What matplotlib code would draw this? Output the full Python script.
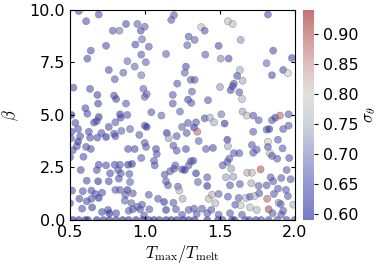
import numpy as np
import matplotlib
matplotlib.use("Agg")
import matplotlib.pyplot as plt
from matplotlib.colors import LinearSegmentedColormap

plt.rcParams['mathtext.fontset'] = 'cm'

# T_max / T_melt for each run
t_ratio = [
    0.558, 0.691, 0.607, 0.785, 0.829, 0.873, 0.949, 0.971, 0.998, 0.980, 0.935, 0.740, 0.638,
    0.615, 0.975, 0.882, 1.005, 0.931, 0.758, 0.855, 0.798, 0.975, 1.025, 1.193, 1.175, 1.375,
    1.398, 1.291, 1.331, 1.282, 1.140, 1.402, 1.491, 1.505, 1.273, 1.265, 1.305, 1.331, 1.553,
    1.585, 1.820, 1.638, 1.558, 1.855, 1.980, 1.811, 1.633, 1.615, 1.847, 1.922, 1.953, 1.651,
    # middle band
    0.522, 0.633, 0.682, 0.687, 0.793, 0.807, 0.873, 0.989, 0.998, 0.602, 0.615, 0.691, 0.678,
    0.509, 0.535, 0.833, 0.838, 0.882, 0.758, 0.802, 0.660, 0.998, 0.509, 0.553, 0.625, 0.709,
    0.740, 0.793, 0.842, 0.900, 0.962, 0.505, 0.567, 0.553, 0.633, 0.682, 0.802, 0.545, 0.607,
    0.638, 0.518, 0.887, 0.931, 0.998,
    1.215, 1.011, 1.185, 1.313, 1.500, 1.287, 1.309, 1.185, 1.420, 1.042, 1.109, 1.233, 1.011,
    1.287, 1.247, 1.340, 1.398, 1.433, 1.460, 1.327, 1.349, 1.278, 1.145, 1.158, 1.211, 1.358,
    1.189, 1.007, 1.073, 1.273, 1.407, 1.453,
    1.593, 1.585, 1.571, 1.629, 1.647, 1.509, 1.531, 1.651, 1.678, 1.722, 1.758, 1.847, 1.869,
    1.900, 1.958, 1.722, 1.811, 1.829, 1.922, 1.958, 1.549, 1.553, 1.713, 1.820, 1.887, 1.745,
    1.820, 1.918,
    # lower band
    0.500, 0.589, 0.975, 0.691, 0.678, 0.740, 0.798, 0.833, 0.887, 0.913, 0.571, 0.767, 0.820,
    0.825, 0.838, 0.895, 0.611, 0.687, 0.758, 0.900, 0.513, 0.585, 0.642, 0.691, 0.642, 0.669,
    0.713, 0.802, 0.833, 0.882, 0.918, 0.869, 0.562, 0.611, 0.500, 0.580, 0.647, 0.713, 0.753,
    0.762, 0.807, 0.891, 0.918, 0.967, 0.993, 0.865, 0.909, 0.949,
    1.078, 1.211, 1.060, 1.065, 1.202, 1.193, 1.167, 1.131, 1.247, 1.265, 1.291, 1.305, 1.322,
    1.340, 1.140, 1.153, 1.220, 1.353, 1.415, 1.229, 1.251, 1.425, 1.447, 1.491, 1.469, 1.025,
    1.087, 1.127, 1.189, 0.980, 1.029, 1.140, 1.207, 1.291, 1.327, 1.380, 1.247, 1.415, 1.491,
    1.593, 1.629, 1.722, 1.833, 1.847, 1.882, 1.962, 1.518, 1.562, 1.549, 1.575, 1.589, 1.540,
    1.415, 1.682, 1.713, 1.771, 1.838, 1.909, 1.945, 1.971, 1.709, 1.567, 1.633, 1.758, 1.811,
    1.855, 1.887, 1.940, 1.553, 1.625, 1.673, 1.700, 1.731, 1.762, 1.815, 1.860, 1.953, 1.891,
    1.905, 1.989, 1.442, 1.602, 1.638, 1.700, 1.745, 1.825, 1.851, 1.909, 1.922, 1.345, 1.567,
    1.647,
    # beta = 0 row
    0.518, 0.558, 0.602, 0.620, 0.678, 0.722, 0.762, 0.807, 0.851, 0.891, 0.940, 0.985, 1.025,
    1.060, 1.095, 1.140, 1.175, 1.211, 1.255, 1.291, 1.331, 1.415, 1.487, 1.518, 1.580, 1.598,
    1.669, 1.695, 1.740, 1.775, 1.825, 1.882, 1.945, 1.998,
]

beta = [
    9.94, 9.78, 9.46, 9.01, 9.01, 9.33, 9.33, 9.01, 9.20, 8.60, 8.35, 8.29, 8.06,
    7.68, 7.87, 7.56, 7.51, 7.30, 7.14, 7.01, 6.70, 6.89, 8.25, 9.75, 9.52, 9.18,
    9.01, 8.73, 8.57, 8.32, 7.90, 7.87, 8.29, 7.68, 7.30, 7.01, 6.67, 6.67, 9.46,
    9.33, 9.78, 8.57, 7.68, 8.06, 7.71, 7.46, 7.14, 6.86, 6.89, 7.14, 6.99, 6.63,
    # middle band
    6.30, 6.24, 5.95, 5.54, 5.92, 5.76, 5.54, 6.24, 5.86, 5.32, 5.06, 4.90, 4.71,
    5.00, 4.62, 5.03, 4.87, 5.00, 4.43, 4.65, 4.64, 4.49, 4.20, 4.33, 4.20, 4.14,
    3.95, 4.11, 4.24, 4.33, 4.05, 3.89, 3.99, 3.73, 3.92, 3.92, 3.99, 3.51, 3.48,
    3.38, 3.32, 3.38, 3.38, 3.67,
    6.49, 5.99, 5.95, 6.11, 6.33, 5.73, 5.57, 5.54, 5.70, 5.13, 4.97, 5.16, 4.43,
    4.62, 4.43, 4.65, 4.84, 4.87, 4.65, 4.40, 4.20, 4.14, 4.14, 3.89, 3.99, 3.76,
    3.54, 3.48, 3.38, 3.38, 3.38, 3.43,
    6.49, 6.37, 6.18, 6.08, 5.76, 5.03, 4.59, 5.16, 4.97, 4.97, 4.75, 4.75, 4.87,
    4.97, 5.03, 4.20, 4.30, 4.33, 4.33, 4.49, 3.82, 3.51, 3.57, 3.73, 3.82, 3.35,
    3.48, 3.41,
    # lower band
    2.99, 3.01, 2.95, 2.63, 2.38, 2.60, 2.63, 2.63, 2.63, 2.67, 2.38, 2.22, 2.38,
    1.97, 2.22, 2.19, 1.87, 1.84, 1.84, 1.81, 1.40, 1.37, 1.40, 1.05, 1.01, 1.24,
    1.30, 1.43, 1.43, 1.43, 1.27, 1.20, 1.01, 0.89, 0.80, 0.54, 0.60, 0.38, 0.48,
    0.32, 0.32, 0.44, 0.51, 0.51, 0.22, 0.92, 0.80, 0.63,
    3.14, 3.30, 2.82, 2.60, 2.60, 2.44, 2.32, 2.16, 2.41, 2.38, 2.60, 2.80, 2.82,
    2.22, 1.84, 1.65, 1.59, 1.81, 1.62, 1.40, 1.01, 1.01, 1.20, 1.24, 0.80, 1.20,
    1.01, 0.86, 0.82, 0.73, 0.51, 0.48, 0.51, 0.48, 0.54, 0.54, 0.25, 0.32, 0.25,
    3.18, 3.18, 3.20, 3.18, 3.05, 2.92, 2.95, 2.60, 2.92, 2.76, 2.44, 2.06, 2.03,
    2.03, 2.25, 2.25, 2.41, 2.03, 2.00, 2.38, 1.94, 1.75, 1.65, 1.71, 1.62, 1.65,
    1.84, 1.49, 1.43, 1.11, 1.05, 1.05, 1.11, 1.14, 1.27, 1.01, 1.24, 1.14, 0.82,
    0.76, 0.73, 0.48, 0.73, 0.70, 0.60, 0.48, 0.51, 0.32, 0.25, 0.44, 0.29, 0.32,
    0.25,
    # beta = 0 row
    0.0, 0.0, 0.0, 0.0, 0.0, 0.0, 0.0, 0.0, 0.0, 0.0, 0.0, 0.0, 0.0,
    0.0, 0.0, 0.0, 0.0, 0.0, 0.0, 0.0, 0.0, 0.0, 0.0, 0.0, 0.0, 0.0,
    0.0, 0.0, 0.0, 0.0, 0.0, 0.0, 0.0, 0.0,
]

sigma_theta = [
    0.65, 0.65, 0.65, 0.66, 0.69, 0.65, 0.67, 0.65, 0.67, 0.68, 0.65, 0.65, 0.65,
    0.65, 0.66, 0.68, 0.67, 0.68, 0.65, 0.67, 0.66, 0.69, 0.66, 0.66, 0.66, 0.77,
    0.66, 0.66, 0.67, 0.67, 0.67, 0.67, 0.65, 0.71, 0.65, 0.67, 0.66, 0.66, 0.77,
    0.82, 0.65, 0.72, 0.65, 0.65, 0.64, 0.68, 0.74, 0.65, 0.65, 0.65, 0.80, 0.74,
    # middle band
    0.65, 0.65, 0.64, 0.64, 0.65, 0.64, 0.66, 0.67, 0.67, 0.65, 0.65, 0.62, 0.65,
    0.61, 0.65, 0.63, 0.64, 0.66, 0.65, 0.66, 0.64, 0.66, 0.65, 0.65, 0.65, 0.65,
    0.61, 0.66, 0.67, 0.67, 0.66, 0.65, 0.65, 0.61, 0.65, 0.65, 0.65, 0.65, 0.65,
    0.65, 0.65, 0.65, 0.65, 0.66,
    0.66, 0.67, 0.66, 0.67, 0.72, 0.64, 0.66, 0.66, 0.66, 0.66, 0.67, 0.67, 0.61,
    0.66, 0.67, 0.66, 0.65, 0.74, 0.74, 0.62, 0.88, 0.66, 0.61, 0.73, 0.66, 0.67,
    0.66, 0.66, 0.65, 0.65, 0.66, 0.65,
    0.66, 0.65, 0.64, 0.66, 0.75, 0.69, 0.62, 0.73, 0.82, 0.66, 0.66, 0.66, 0.64,
    0.88, 0.66, 0.66, 0.66, 0.62, 0.66, 0.66, 0.62, 0.74, 0.66, 0.80, 0.66, 0.66,
    0.66, 0.66,
    # lower band
    0.65, 0.65, 0.66, 0.65, 0.65, 0.65, 0.65, 0.66, 0.62, 0.62, 0.65, 0.65, 0.66,
    0.65, 0.66, 0.66, 0.65, 0.62, 0.65, 0.67, 0.65, 0.65, 0.65, 0.61, 0.65, 0.65,
    0.65, 0.66, 0.66, 0.62, 0.66, 0.66, 0.65, 0.65, 0.65, 0.65, 0.63, 0.65, 0.65,
    0.61, 0.65, 0.66, 0.66, 0.66, 0.66, 0.67, 0.67, 0.67,
    0.66, 0.66, 0.66, 0.66, 0.66, 0.66, 0.66, 0.66, 0.65, 0.62, 0.66, 0.66, 0.65,
    0.62, 0.66, 0.66, 0.66, 0.67, 0.62, 0.75, 0.74, 0.76, 0.83, 0.67, 0.75, 0.66,
    0.66, 0.62, 0.66, 0.66, 0.66, 0.62, 0.66, 0.66, 0.66, 0.66, 0.66, 0.66, 0.66,
    0.66, 0.66, 0.66, 0.82, 0.66, 0.66, 0.65, 0.66, 0.66, 0.66, 0.73, 0.73, 0.73,
    0.66, 0.84, 0.76, 0.89, 0.66, 0.66, 0.66, 0.66, 0.74, 0.66, 0.66, 0.66, 0.66,
    0.66, 0.66, 0.66, 0.66, 0.66, 0.75, 0.66, 0.76, 0.66, 0.88, 0.66, 0.66, 0.72,
    0.66, 0.75, 0.66, 0.66, 0.81, 0.76, 0.75, 0.90, 0.66, 0.66, 0.66, 0.66, 0.66,
    0.66,
    # beta = 0 row
    0.60, 0.61, 0.60, 0.61, 0.60, 0.61, 0.60, 0.61, 0.60, 0.61, 0.60, 0.62, 0.61,
    0.60, 0.62, 0.60, 0.61, 0.60, 0.62, 0.61, 0.60, 0.61, 0.62, 0.63, 0.60, 0.61,
    0.64, 0.63, 0.62, 0.64, 0.63, 0.64, 0.63, 0.64,
]

# colour map: deep blue -> grey -> red (drawn with alpha, like the original)
cmap_vals = [0.59, 0.65, 0.70, 0.75, 0.80, 0.85, 0.90, 0.94]
cmap_rgb = [(10, 15, 150), (60, 67, 175), (113, 120, 188), (163, 177, 188),
            (200, 200, 193), (197, 138, 138), (172, 63, 63), (150, 0, 0)]
vmin, vmax = 0.59, 0.94
nodes = [((v - vmin) / (vmax - vmin), tuple(c / 255 for c in rgb))
         for v, rgb in zip(cmap_vals, cmap_rgb)]
cmap = LinearSegmentedColormap.from_list('bgr', nodes)

fig = plt.figure(figsize=(3.81, 2.67), dpi=100)
ax = fig.add_axes([0.184, 0.176, 0.590, 0.787])
cax = fig.add_axes([0.795, 0.176, 0.029, 0.787])

sc = ax.scatter(t_ratio, beta, c=sigma_theta, cmap=cmap, vmin=vmin, vmax=vmax,
                s=26, alpha=0.55, edgecolors='0.35', linewidths=0.4)

ax.set_xlim(0.5, 2.0)
ax.set_ylim(0, 10)
ax.set_xticks([0.5, 1.0, 1.5, 2.0])
ax.set_yticks([0, 2.5, 5.0, 7.5, 10.0])
ax.tick_params(direction='in', top=True, right=True, labelsize=11.5, length=3)
ax.set_xlabel(r'$T_\mathrm{max}/T_\mathrm{melt}$', fontsize=12, labelpad=2)
ax.set_ylabel(r'$\beta$', fontsize=12, labelpad=6)

cbar = fig.colorbar(sc, cax=cax)
cbar.outline.set_visible(False)
cbar.set_ticks([0.60, 0.65, 0.70, 0.75, 0.80, 0.85, 0.90])
cbar.ax.tick_params(labelsize=11.5, length=3)
cbar.set_label(r'$\sigma_\theta$', fontsize=12, labelpad=1)

fig.savefig('out.png', dpi=100)
